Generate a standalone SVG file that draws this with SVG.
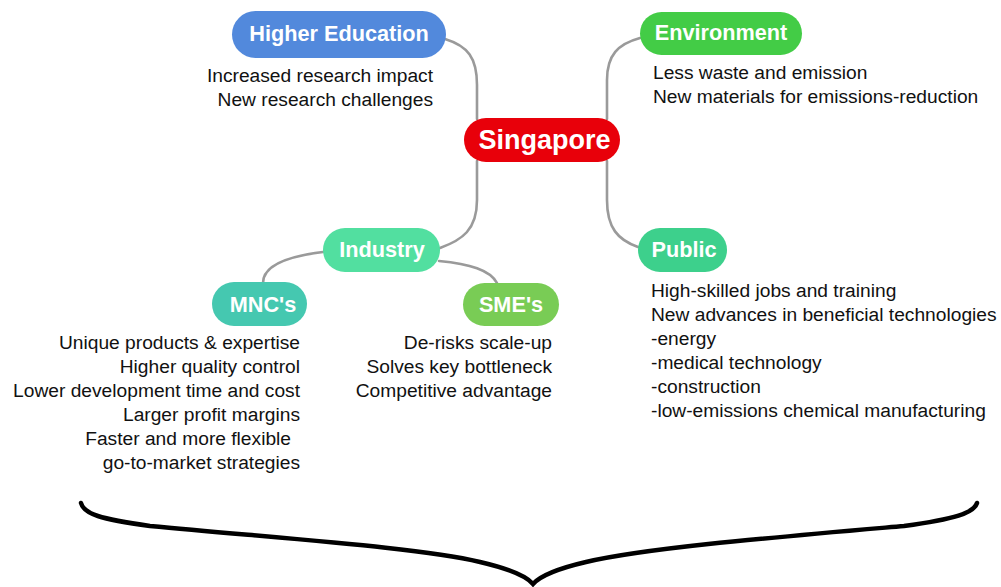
<svg xmlns="http://www.w3.org/2000/svg" width="1001" height="587" viewBox="0 0 1001 587">
<style>
.lbl{font-family:"Liberation Sans",Arial,sans-serif;font-weight:bold;font-size:21.7px;fill:#fff;text-anchor:middle}
.big{font-size:27px}
.body{font-family:"Liberation Sans",Arial,sans-serif;font-size:19.2px;fill:#111}
.r{text-anchor:end}
.conn{fill:none;stroke:#9a9a9a;stroke-width:2.6;stroke-linecap:round}
</style>
<rect width="1001" height="587" fill="#fff"/>
<g id="connectors">
<path class="conn" d="M445,39 C468,46 477,58 477,85 L477,119"/>
<path class="conn" d="M477,161 L477,200 C477,230 462,240 440,248"/>
<path class="conn" d="M607,119 L607,80 C607,55 618,44 640,38"/>
<path class="conn" d="M607,161 L607,200 C607,228 618,240 638,247"/>
<path class="conn" d="M323,252 C290,256 263,265 263,283"/>
<path class="conn" d="M439,261 C470,264 490,270 497,283"/>
</g>
<g id="higher-education">
<rect x="232" y="11" width="214" height="47" rx="23.5" fill="#5289DC"/>
<text class="lbl" x="339" y="41">Higher Education</text>
<text class="body r" x="433" y="82">Increased research impact</text>
<text class="body r" x="433" y="106">New research challenges</text>
</g>
<g id="environment">
<rect x="640" y="12" width="162" height="43" rx="21.5" fill="#43CC46"/>
<text class="lbl" x="721" y="40">Environment</text>
<text class="body" x="653" y="79">Less waste and emission</text>
<text class="body" x="653" y="103">New materials for emissions-reduction</text>
</g>
<g id="singapore">
<rect x="464" y="118" width="156" height="44" rx="22" fill="#E8000A"/>
<text class="lbl big" x="544.5" y="149">Singapore</text>
</g>
<g id="industry">
<rect x="323" y="228" width="117" height="44" rx="22" fill="#52DFA0"/>
<text class="lbl" x="382" y="257">Industry</text>
</g>
<g id="public">
<rect x="638" y="228" width="89" height="44" rx="22" fill="#3DD08C"/>
<text class="lbl" x="684" y="257">Public</text>
<text class="body" x="651" y="297">High-skilled jobs and training</text>
<text class="body" x="651" y="321">New advances in beneficial technologies</text>
<text class="body" x="651" y="345">-energy</text>
<text class="body" x="651" y="369">-medical technology</text>
<text class="body" x="651" y="393">-construction</text>
<text class="body" x="651" y="417">-low-emissions chemical manufacturing</text>
</g>
<g id="mncs">
<rect x="212" y="282" width="95" height="44" rx="22" fill="#45C8B0"/>
<text class="lbl" x="263" y="312">MNC's</text>
<text class="body r" x="300" y="349">Unique products &amp; expertise</text>
<text class="body r" x="300" y="373">Higher quality control</text>
<text class="body r" x="300" y="397">Lower development time and cost</text>
<text class="body r" x="300" y="421">Larger profit margins</text>
<text class="body r" x="291" y="445">Faster and more flexible</text>
<text class="body r" x="300" y="469">go-to-market strategies</text>
</g>
<g id="smes">
<rect x="463" y="283" width="96" height="43" rx="21.5" fill="#79CC55"/>
<text class="lbl" x="511" y="312">SME's</text>
<text class="body r" x="552" y="349">De-risks scale-up</text>
<text class="body r" x="552" y="373">Solves key bottleneck</text>
<text class="body r" x="552" y="397">Competitive advantage</text>
</g>
<g id="brace" fill="none" stroke="#000" stroke-width="4.5" stroke-linecap="round" stroke-linejoin="miter">
<path d="M81,503 C84,514 100,519 150,526 C300,540 420,548 480,562 C510,569 526,576 533,584 C540,576 556,569 586,562 C646,548 766,538 904,526 C955,519 974,513 977,503"/>
</g>
</svg>
